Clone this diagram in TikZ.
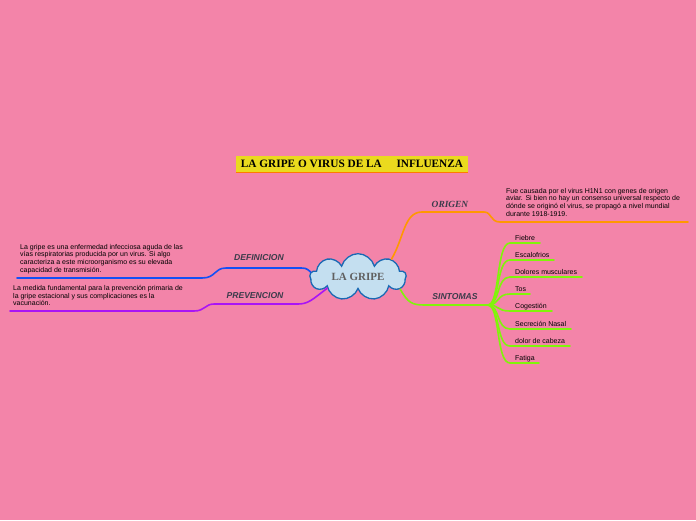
\documentclass[tikz,border=0pt]{standalone}
\usepackage{fontspec}
\setmainfont{Liberation Serif}
\setsansfont{Liberation Sans}
\usepackage{tikz}
\usetikzlibrary{shapes.symbols}
\definecolor{fondo}{RGB}{243,132,169}
\definecolor{amarillo}{RGB}{234,218,30}
\definecolor{naranja}{RGB}{255,152,0}
\definecolor{azul}{RGB}{20,80,245}
\definecolor{morado}{RGB}{170,20,245}
\definecolor{verde}{RGB}{128,245,10}
\definecolor{nube}{RGB}{196,223,240}
\definecolor{nubeborde}{RGB}{25,105,180}
\definecolor{rotulo}{RGB}{60,60,75}

\begin{document}
\begin{tikzpicture}[x=1pt,y=-1pt,
  rama/.style={line width=1.6pt,line cap=round},
  texto/.style={inner sep=0pt,anchor=north west,align=left,
    font=\sffamily\fontsize{7}{7.7}\selectfont},
  hoja/.style={inner sep=0pt,anchor=base west,font=\sffamily\fontsize{7}{7.7}\selectfont},
  etiqueta/.style={font=\sffamily\bfseries\itshape\fontsize{8.6}{10}\selectfont,text=rotulo}]
\useasboundingbox[fill=fondo] (0,0) rectangle (696,520);
% titulo
\node[fill=amarillo,minimum width=232pt,minimum height=16pt,inner sep=0pt,
  font=\rmfamily\bfseries\fontsize{11.3}{12}\selectfont] (titulo) at (352,164)
  {LA GRIPE O VIRUS DE LA\hspace{1.3em}INFLUENZA};
\draw[naranja!80!red,line width=1pt] (titulo.south west)--(titulo.south east);
% nube central
\node[cloud,cloud puffs=9,aspect=2.6,draw=nubeborde,fill=nube,line width=1.3pt,
  minimum width=96pt,minimum height=42pt,inner sep=0pt,text=gray!75!black,
  font=\rmfamily\bfseries\fontsize{11}{12}\selectfont] (gripe) at (358,277) {LA GRIPE};
% DEFINICION
\coordinate (def-fin) at (17,278);
\draw[rama,azul] (gripe.174) .. controls (306,268) .. (298,268) -- (226,268)
  .. controls (214,268) and (216,278) .. (202,278) -- (def-fin);
\node[etiqueta] (definicion) at (259,258) {DEFINICION};
\node[texto] (def-txt) at (20,244) {La gripe es una enfermedad infecciosa aguda de las\\
  vías respiratorias producida por un virus. Si algo\\
  caracteriza a este microorganismo es su elevada\\
  capacidad de transmisión.};
% PREVENCION
\coordinate (prev-fin) at (10,311);
\draw[rama,morado] (gripe.200) .. controls (312,300) and (308,304) .. (298,304) -- (214,304)
  .. controls (205,304) and (205,311) .. (194,311) -- (prev-fin);
\node[etiqueta] (prevencion) at (255,296) {PREVENCION};
\node[texto] (prev-txt) at (13,285) {La medida fundamental para la prevención primaria de\\
  la gripe estacional y sus complicaciones es la\\
  vacunación.};
% ORIGEN
\coordinate (orig-fin) at (688,222);
\draw[rama,naranja] (gripe.28) .. controls (404,238) and (404,212) .. (422,212) -- (484,212)
  .. controls (492,212) and (490,222) .. (500,222) -- (orig-fin);
\node[etiqueta,font=\rmfamily\bfseries\itshape\fontsize{9.4}{10}\selectfont] (origen) at (450,204) {ORIGEN};
\node[texto] (orig-txt) at (506,188) {Fue causada por el virus H1N1 con genes de origen\\
  aviar. Si bien no hay un consenso universal respecto de\\
  dónde se originó el virus, se propagó a nivel mundial\\
  durante 1918-1919.};
% SINTOMAS
\coordinate (sint-j) at (488,305);
\draw[rama,verde] (gripe.-16) .. controls (408,303) and (412,305) .. (425,305) -- (sint-j);
\node[etiqueta] (sintomas) at (455,297) {SINTOMAS};
\foreach \n/\t/\y/\f in {fiebre/Fiebre/243/540,escal/Escalofrios/260/554,
    dolores/Dolores musculares/277/582,tos/Tos/294/530,coges/Cogestión/311/552,
    secre/Secreción Nasal/329/571,cabeza/dolor de cabeza/346/570,fatiga/Fatiga/363/539}
{
  \coordinate (\n-a) at (510,\y);
  \coordinate (\n-b) at (\f,\y);
  \node[hoja] (\n) at (515,\y-3) {\t};
  \draw[rama,verde] (sint-j) .. controls (500,305) and (496,\y) .. (\n-a) -- (\n-b);
}
\end{tikzpicture}
\end{document}
